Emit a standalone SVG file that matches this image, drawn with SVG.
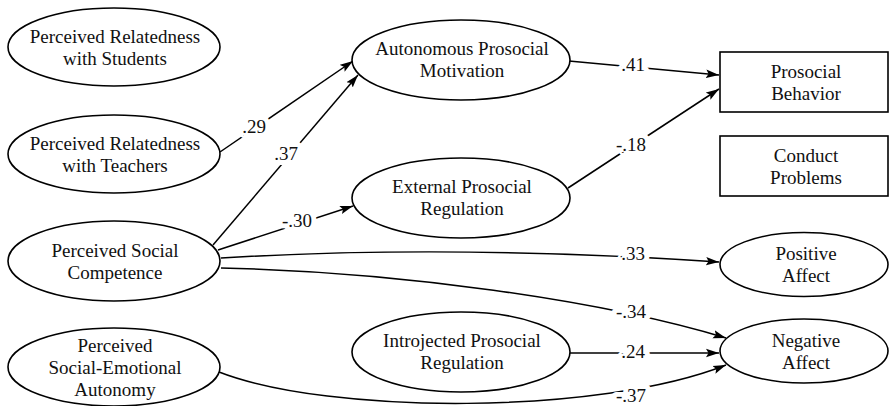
<svg xmlns="http://www.w3.org/2000/svg" width="891" height="406" viewBox="0 0 891 406">
<defs>
<marker id="arr" markerUnits="userSpaceOnUse" markerWidth="14" markerHeight="10" refX="13" refY="5" orient="auto">
<path d="M0,0.8 L13,5 L0,9.2 L2.5,5 Z" fill="#000"/>
</marker>
<style>
.n{fill:#fff;stroke:#000;stroke-width:1.6}
.t{font-family:'Liberation Serif','Times New Roman',serif;font-size:19px;fill:#111;text-anchor:middle}
.c{fill:none;stroke:#000;stroke-width:1.5;marker-end:url(#arr)}
.l{font-family:'Liberation Serif','Times New Roman',serif;font-size:19px;fill:#111;text-anchor:middle;stroke:#fff;stroke-width:10px;paint-order:stroke;stroke-linejoin:round}
</style>
</defs>
<rect width="891" height="406" fill="#fff"/>
<g id="connectors">
<path class="c" d="M220,152 L353,61"/>
<path class="c" d="M213,245 L358,75"/>
<path class="c" d="M218,250 L353,206"/>
<path class="c" d="M569,61 L719,75"/>
<path class="c" d="M568,188 L719,89"/>
<path class="c" d="M221,258 Q450,244 719,262"/>
<path class="c" d="M221,268 C400,272 600,300 726,338"/>
<path class="c" d="M570,353 L719,353"/>
<path class="c" d="M219,372 C330,415 600,415 726,365"/>
<text class="l" x="254" y="133">.29</text>
<text class="l" x="286" y="160">.37</text>
<text class="l" x="297" y="227">-.30</text>
<text class="l" x="633" y="71">.41</text>
<text class="l" x="631" y="151">-.18</text>
<text class="l" x="633" y="260">.33</text>
<text class="l" x="631" y="318">-.34</text>
<text class="l" x="633" y="358">.24</text>
<text class="l" x="631" y="402">-.37</text>
</g>
<g id="n-students">
<ellipse class="n" cx="114" cy="47" rx="106" ry="39"/>
<text class="t" x="115" y="43">Perceived Relatedness</text>
<text class="t" x="115" y="65">with Students</text>
</g>
<g id="n-teachers">
<ellipse class="n" cx="114" cy="154" rx="106" ry="39"/>
<text class="t" x="115" y="150">Perceived Relatedness</text>
<text class="t" x="115" y="172">with Teachers</text>
</g>
<g id="n-competence">
<ellipse class="n" cx="114" cy="261" rx="106" ry="40"/>
<text class="t" x="115" y="257">Perceived Social</text>
<text class="t" x="115" y="279">Competence</text>
</g>
<g id="n-autonomy">
<ellipse class="n" cx="114" cy="367" rx="106" ry="39"/>
<text class="t" x="115" y="352">Perceived</text>
<text class="t" x="115" y="374">Social-Emotional</text>
<text class="t" x="115" y="396">Autonomy</text>
</g>
<g id="n-autonomous">
<ellipse class="n" cx="461" cy="60" rx="109" ry="40"/>
<text class="t" x="462" y="55">Autonomous Prosocial</text>
<text class="t" x="462" y="77">Motivation</text>
</g>
<g id="n-external">
<ellipse class="n" cx="461" cy="198" rx="109" ry="40"/>
<text class="t" x="462" y="193">External Prosocial</text>
<text class="t" x="462" y="215">Regulation</text>
</g>
<g id="n-introjected">
<ellipse class="n" cx="461" cy="352" rx="109" ry="40"/>
<text class="t" x="462" y="347">Introjected Prosocial</text>
<text class="t" x="462" y="369">Regulation</text>
</g>
<g id="n-prosocial">
<rect class="n" x="720" y="52" width="168" height="60"/>
<text class="t" x="806" y="78">Prosocial</text>
<text class="t" x="806" y="100">Behavior</text>
</g>
<g id="n-conduct">
<rect class="n" x="720" y="136" width="168" height="60"/>
<text class="t" x="806" y="162">Conduct</text>
<text class="t" x="806" y="184">Problems</text>
</g>
<g id="n-positive">
<ellipse class="n" cx="804" cy="264.5" rx="84" ry="32"/>
<text class="t" x="806" y="260">Positive</text>
<text class="t" x="806" y="282">Affect</text>
</g>
<g id="n-negative">
<ellipse class="n" cx="804" cy="351" rx="84" ry="32"/>
<text class="t" x="806" y="347">Negative</text>
<text class="t" x="806" y="369">Affect</text>
</g>
</svg>
